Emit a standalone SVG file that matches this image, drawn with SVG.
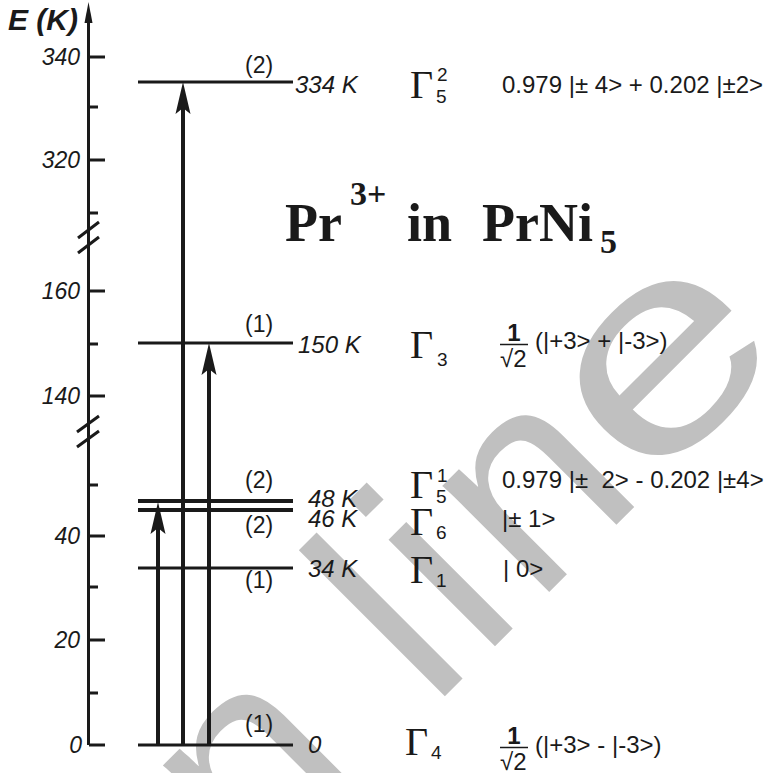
<svg xmlns="http://www.w3.org/2000/svg" width="767" height="773" viewBox="0 0 767 773">
<style>
.ax{stroke:#1a1a1a;stroke-width:3;fill:none}
.lvl{stroke:#1a1a1a;stroke-width:3}
.lvlb{stroke:#1a1a1a;stroke-width:4}
.arr{stroke:#1a1a1a;stroke-width:4;marker-end:url(#ah)}
.num{font-family:"Liberation Sans",Arial,sans-serif;font-style:italic;font-size:23px;fill:#1a1a1a}
.deg{font-family:"Liberation Sans",Arial,sans-serif;font-size:23px;fill:#1a1a1a}
.klab{font-family:"Liberation Sans",Arial,sans-serif;font-style:italic;font-size:24px;fill:#1a1a1a}
.gam{font-family:"Liberation Serif","Times New Roman",serif;font-size:40px;fill:#1a1a1a}
.idx{font-family:"Liberation Sans",Arial,sans-serif;font-size:19px;fill:#1a1a1a}
.ket{font-family:"Liberation Sans",Arial,sans-serif;font-size:24px;fill:#1a1a1a}
.title{font-family:"Liberation Serif","Times New Roman",serif;font-weight:bold;fill:#1a1a1a}
.wm{font-family:"Liberation Sans",Arial,sans-serif;font-size:285px;fill:#c0c0c0}
</style>
<defs>
<marker id="ah" markerUnits="userSpaceOnUse" orient="auto" markerWidth="40" markerHeight="20" refX="0" refY="0" overflow="visible">
<path d="M20,0 L-12,-7.5 L-6,0 L-12,7.5 Z" fill="#1a1a1a"/>
</marker>
</defs>
<rect width="767" height="773" fill="#ffffff"/>
<g id="watermark">
<text class="wm" transform="translate(570.6,570.6) rotate(-45)" x="-611 -445 -290 -197 -126 -50" y="0">on lin</text>
<text class="wm" transform="translate(570.6,570.6) rotate(-45) translate(108,0) scale(1.3,1)" x="0" y="0">e</text>
</g>
<g id="axis">
<line class="ax" x1="88.5" y1="745" x2="88.5" y2="12"/>
<path d="M88.5,2 L84.5,23 L92.5,23 Z" fill="#1a1a1a"/>
<path class="ax" d="M89,57H105M89,160H105M89,291H105M89,396H105M89,536H105M89,640H105M89,745H105"/>
<path class="ax" d="M89,107H98M89,213H98M89,344H98M89,485H98M89,587H98M89,693H98"/>
<path class="ax" d="M78,238L99,222M78,253L99,237M77,432L99,416M77,447L99,431"/>
<text class="num" x="80" y="65" text-anchor="end">340</text>
<text class="num" x="80" y="168" text-anchor="end">320</text>
<text class="num" x="80" y="299" text-anchor="end">160</text>
<text class="num" x="80" y="404" text-anchor="end">140</text>
<text class="num" x="80" y="544" text-anchor="end">40</text>
<text class="num" x="80" y="648" text-anchor="end">20</text>
<text class="num" x="82" y="753" text-anchor="end">0</text>
<text x="8" y="30" font-family="Liberation Sans,Arial,sans-serif" font-weight="bold" font-style="italic" font-size="30" fill="#1a1a1a">E (K)</text>
</g>
<g id="title">
<text class="title" x="285" y="241" font-size="54">Pr</text>
<text class="title" x="350" y="205" font-size="34">3+</text>
<text class="title" x="407" y="241" font-size="54">in</text>
<text class="title" x="482" y="241" font-size="54">PrNi</text>
<text class="title" x="600" y="253" font-size="34">5</text>
</g>
<g id="level-334">
<line class="lvl" x1="138" y1="82" x2="293" y2="82"/>
<text class="deg" x="245" y="73">(2)</text>
<text class="klab" x="295" y="93">334 K</text>
<text class="gam" x="410" y="98">Γ</text>
<text class="idx" x="437" y="81">2</text>
<text class="idx" x="436" y="103">5</text>
<text class="ket" x="502" y="93">0.979 |± 4&gt; + 0.202 |±2&gt;</text>
</g>
<g id="level-150">
<line class="lvl" x1="138" y1="343" x2="293" y2="343"/>
<text class="deg" x="245" y="332">(1)</text>
<text class="klab" x="298" y="353">150 K</text>
<text class="gam" x="410" y="358">Γ</text>
<text class="idx" x="437" y="366">3</text>
<text class="ket" x="514" y="341" text-anchor="middle" font-weight="bold" font-size="21">1</text>
<line x1="500" y1="344.5" x2="528" y2="344.5" stroke="#1a1a1a" stroke-width="1.5"/>
<text class="ket" x="500" y="367" font-size="25">√2</text>
<text class="ket" x="535" y="349">(|+3&gt; + |-3&gt;)</text>
</g>
<g id="level-48">
<line class="lvlb" x1="138" y1="501" x2="293" y2="501"/>
<text class="deg" x="245" y="488">(2)</text>
<text class="klab" x="308" y="507">48 K</text>
<text class="gam" x="410" y="498">Γ</text>
<text class="idx" x="437" y="482">1</text>
<text class="idx" x="436" y="503">5</text>
<text class="ket" x="502" y="488" xml:space="preserve">0.979 |±  2&gt; - 0.202 |±4&gt;</text>
</g>
<g id="level-46">
<line class="lvlb" x1="138" y1="510" x2="293" y2="510"/>
<text class="deg" x="245" y="533">(2)</text>
<text class="klab" x="308" y="527">46 K</text>
<text class="gam" x="410" y="535">Γ</text>
<text class="idx" x="436" y="539">6</text>
<text class="ket" x="502" y="527">|± 1&gt;</text>
</g>
<g id="level-34">
<line class="lvl" x1="138" y1="568" x2="293" y2="568"/>
<text class="deg" x="245" y="588">(1)</text>
<text class="klab" x="308" y="577">34 K</text>
<text class="gam" x="410" y="583">Γ</text>
<text class="idx" x="436" y="587">1</text>
<text class="ket" x="503" y="577">| 0&gt;</text>
</g>
<g id="level-0">
<line class="lvl" x1="138" y1="745" x2="293" y2="745"/>
<text class="deg" x="245" y="732">(1)</text>
<text class="klab" x="308" y="753">0</text>
<text class="gam" x="405" y="755">Γ</text>
<text class="idx" x="431" y="759">4</text>
<text class="ket" x="514" y="744" text-anchor="middle" font-weight="bold" font-size="21">1</text>
<line x1="500" y1="747.5" x2="528" y2="747.5" stroke="#1a1a1a" stroke-width="1.5"/>
<text class="ket" x="500" y="770" font-size="25">√2</text>
<text class="ket" x="535" y="753">(|+3&gt; - |-3&gt;)</text>
</g>
<g id="connectors">
<line class="arr" x1="158" y1="745" x2="158" y2="522"/>
<line class="arr" x1="183" y1="745" x2="183" y2="102"/>
<line class="arr" x1="209" y1="745" x2="209" y2="363"/>
</g>
</svg>
